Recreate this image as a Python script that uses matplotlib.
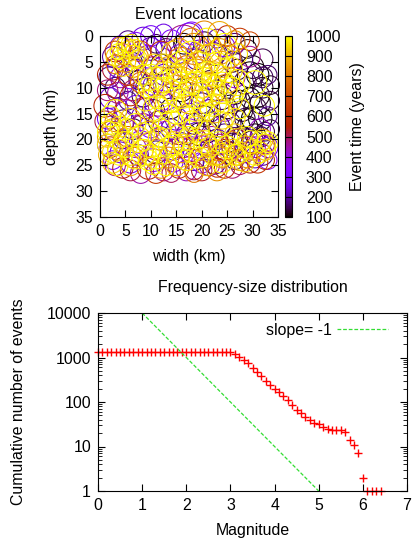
import matplotlib
matplotlib.use('Agg')

import matplotlib.pyplot as plt
from matplotlib.patches import Circle
from matplotlib.collections import PatchCollection
from matplotlib.ticker import FixedLocator, NullFormatter, LogLocator

FS = 11.4
plt.rcParams['font.family'] = ['Liberation Sans', 'DejaVu Sans']
plt.rcParams['font.size'] = FS
plt.rcParams['axes.titlesize'] = FS
plt.rcParams['axes.labelsize'] = FS
plt.rcParams['xtick.labelsize'] = FS
plt.rcParams['ytick.labelsize'] = FS
plt.rcParams['legend.fontsize'] = FS

# Event circles: (width km, depth km, radius km, time years)
early_events = [
    (5.5, 1.0, 2.0, 180), (8.5, 0.5, 2.2, 250), (11.0, 1.5, 1.8, 150), (14.0, 0.8, 2.0, 320),
    (17.5, 0.0, 2.5, 280), (20.5, 1.2, 2.0, 130), (23.0, 0.5, 1.8, 210), (26.5, 1.5, 2.0, 170),
    (29.0, 2.5, 1.8, 120), (32.0, 4.5, 2.0, 140),
    (2.5, 4.0, 2.0, 200), (6.5, 5.0, 1.8, 140), (9.5, 4.0, 2.2, 300), (12.0, 5.5, 2.0, 110),
    (15.5, 3.5, 1.8, 240), (19.0, 4.5, 2.0, 190), (22.5, 3.5, 2.2, 160), (26.0, 5.0, 2.0, 130),
    (30.0, 6.0, 2.2, 110), (33.0, 7.5, 1.8, 160),
    (1.8, 8.0, 2.0, 170), (4.5, 9.0, 2.2, 230), (7.5, 8.5, 1.8, 120), (10.5, 9.5, 2.0, 270),
    (14.0, 8.0, 2.0, 150), (18.0, 9.5, 2.2, 200), (21.5, 8.5, 1.8, 130), (25.0, 9.5, 2.0, 110),
    (28.5, 9.0, 2.2, 150), (32.0, 10.0, 2.0, 120), (33.5, 12.5, 1.8, 140),
    (2.0, 12.0, 2.0, 250), (5.5, 12.5, 1.8, 180), (8.5, 11.5, 2.2, 130), (12.0, 12.5, 2.0, 320),
    (16.0, 12.0, 1.8, 200), (20.0, 13.0, 2.0, 160), (24.0, 12.0, 2.2, 140), (27.5, 12.5, 2.0, 110),
    (30.5, 14.0, 2.2, 130), (33.0, 15.5, 1.8, 190),
    (1.5, 16.0, 2.0, 280), (4.5, 16.5, 2.2, 150), (8.0, 15.5, 1.8, 220), (11.5, 16.5, 2.0, 130),
    (15.0, 16.0, 2.2, 260), (18.5, 17.0, 2.0, 170), (22.0, 16.5, 1.8, 120), (25.5, 17.0, 2.2, 150),
    (29.0, 17.5, 2.0, 110), (32.5, 18.5, 1.8, 140),
    (1.5, 21.0, 2.0, 300), (4.5, 20.0, 1.8, 190), (8.0, 20.5, 2.2, 350), (12.0, 19.5, 2.0, 240),
    (16.0, 20.5, 1.8, 180), (19.5, 19.0, 2.2, 130), (23.0, 20.0, 2.0, 210), (26.5, 19.5, 1.8, 160),
    (30.0, 20.5, 2.2, 120), (33.0, 21.5, 2.0, 330),
    (2.5, 24.0, 1.8, 310), (6.0, 24.5, 2.0, 270), (10.5, 24.0, 2.2, 340), (14.5, 24.5, 1.8, 290),
    (18.5, 24.0, 2.0, 200), (22.5, 24.5, 2.2, 180), (26.5, 24.0, 1.8, 150), (30.5, 23.5, 2.0, 230),
    (33.0, 24.0, 1.8, 360),
    (29.5, 7.5, 2.5, 105), (31.0, 11.5, 2.3, 115), (28.0, 14.5, 2.0, 125), (31.5, 16.0, 2.3, 100),
    (27.0, 6.5, 2.0, 135), (30.5, 19.0, 2.0, 110), (26.0, 21.0, 2.2, 145), (23.5, 17.5, 2.0, 125),
    (20.5, 15.5, 2.0, 115),
    (4.0, 2.0, 2.0, 320), (7.0, 1.5, 2.2, 350), (10.0, 0.0, 2.0, 290), (12.5, -0.5, 1.8, 260),
    (18.0, -0.5, 2.2, 340),
    (3.5, 6.0, 2.0, 220), (7.0, 6.5, 2.0, 160), (10.0, 2.5, 2.2, 200), (13.0, 2.5, 2.0, 140),
    (16.5, 1.5, 2.0, 110), (19.5, 3.0, 2.2, 260), (24.5, 2.0, 2.0, 300), (28.0, 4.5, 2.0, 180),
    (31.0, 7.5, 2.2, 100), (33.5, 9.5, 1.8, 120),
    (3.0, 10.0, 2.0, 140), (6.0, 8.0, 2.2, 310), (9.0, 10.0, 2.0, 180), (12.5, 7.5, 2.0, 230),
    (16.0, 10.5, 2.2, 120), (19.5, 11.0, 2.0, 280), (23.0, 10.5, 2.0, 170), (26.5, 11.0, 2.2, 130),
    (29.5, 12.0, 2.0, 100), (32.0, 8.0, 2.0, 150),
    (3.5, 14.0, 2.0, 210), (7.0, 13.5, 2.0, 260), (10.5, 14.5, 2.2, 160), (14.0, 14.0, 2.0, 110),
    (17.5, 15.0, 2.0, 230), (21.5, 14.5, 2.2, 180), (25.0, 14.0, 2.0, 120), (28.5, 16.0, 2.0, 140),
    (31.5, 13.0, 2.0, 110), (33.5, 18.0, 1.8, 130),
    (3.0, 18.5, 2.0, 240), (6.5, 18.0, 2.0, 140), (10.0, 17.5, 2.2, 310), (14.0, 18.0, 2.0, 190),
    (17.0, 19.0, 2.0, 150), (21.0, 18.5, 2.2, 120), (24.5, 19.0, 2.0, 180), (28.0, 19.5, 2.0, 130),
    (31.5, 19.5, 2.0, 160), (30.0, 16.0, 2.2, 100),
    (4.0, 22.5, 2.0, 260), (7.5, 23.0, 2.0, 200), (11.0, 22.5, 2.2, 150), (14.5, 22.0, 2.0, 270),
    (18.0, 21.5, 2.0, 300), (21.5, 22.0, 2.0, 170), (25.0, 22.5, 2.2, 140), (28.5, 22.5, 2.0, 250),
    (32.0, 23.0, 2.0, 190), (20.0, 24.5, 2.0, 340),
]

middle_events = [
    (2.5, 6.5, 2.0, 520), (3.0, 3.0, 2.0, 600), (1.5, 10.5, 2.0, 480), (1.0, 13.5, 2.2, 550),
    (3.5, 11.0, 2.0, 450), (6.5, 10.5, 2.0, 500), (2.0, 18.5, 2.0, 560), (10.5, 6.0, 2.0, 430),
    (16.4, 1.2, 3.3, 470), (27.5, 0.5, 2.0, 640), (29.5, 1.0, 1.8, 690), (25.0, 0.0, 2.0, 620),
    (3.0, 25.0, 2.0, 480), (6.0, 26.0, 2.0, 510), (9.5, 25.5, 2.2, 540), (12.5, 26.0, 2.0, 470),
    (15.5, 25.5, 2.0, 600), (18.5, 26.0, 1.8, 520), (21.5, 25.0, 2.0, 460), (24.5, 25.5, 2.0, 580),
    (27.5, 25.0, 1.8, 500), (31.0, 24.5, 2.0, 620), (11.0, 22.0, 2.0, 450), (16.5, 21.5, 2.0, 490),
    (20.0, 21.5, 2.2, 430), (24.5, 22.0, 2.0, 560), (28.5, 21.5, 2.0, 410), (32.5, 21.0, 1.8, 470),
    (7.0, 21.5, 2.0, 410), (13.0, 18.5, 2.0, 440), (17.5, 18.0, 2.0, 420), (22.0, 19.5, 2.0, 460),
    (9.0, 14.0, 2.0, 530), (5.0, 14.5, 2.2, 470), (12.5, 9.5, 2.0, 420), (26.5, 8.0, 2.0, 430),
    (24.5, 14.5, 2.0, 410),
    (1.5, 7.5, 2.0, 560), (4.0, 8.0, 2.0, 430), (1.0, 16.5, 2.0, 520), (2.0, 21.5, 2.0, 600),
    (4.5, 25.5, 2.0, 560), (8.0, 26.5, 2.0, 450), (11.0, 26.5, 2.0, 620), (14.0, 26.5, 1.8, 500),
    (17.0, 26.0, 2.0, 440), (20.0, 26.0, 2.0, 530), (23.0, 25.5, 1.8, 610), (26.0, 25.5, 2.0, 480),
    (29.5, 24.5, 2.0, 540), (32.5, 24.0, 1.8, 590), (8.5, 17.0, 2.0, 470), (15.5, 19.0, 2.0, 510),
    (19.0, 20.0, 2.0, 580), (23.5, 21.0, 2.0, 500), (27.0, 20.0, 2.0, 530), (30.5, 21.5, 2.0, 450),
    (5.5, 7.5, 2.0, 620), (8.0, 3.0, 2.0, 650), (12.0, 3.0, 2.0, 580), (29.5, 4.0, 2.0, 460),
    (31.5, 18.0, 2.0, 420), (6.0, 11.5, 2.0, 580), (11.5, 13.5, 2.0, 480),
]

late_events = [
    (15.5, 3.0, 2.5, 860), (18.5, 2.5, 3.0, 820), (21.0, 4.5, 2.8, 880), (19.5, 6.5, 2.5, 790),
    (23.5, 3.0, 2.5, 840), (17.0, 6.0, 2.2, 760), (22.5, 7.5, 2.5, 900), (20.5, -0.5, 2.4, 830),
    (23.5, -0.5, 2.3, 890), (26.5, 1.0, 2.0, 870), (25.5, 4.0, 2.2, 800), (16.0, 9.0, 3.0, 850),
    (13.5, 6.5, 2.5, 880), (24.5, 10.0, 2.5, 810), (19.0, 11.0, 3.0, 870),
    (4.5, 3.5, 2.0, 850), (6.0, 2.5, 1.8, 880), (3.0, 5.5, 1.8, 780), (6.5, 6.0, 2.0, 820),
    (3.5, 22.0, 2.0, 850), (6.5, 23.5, 2.0, 800), (10.0, 23.0, 2.0, 880), (13.5, 23.5, 2.0, 820),
    (17.0, 24.0, 2.0, 870), (20.5, 23.5, 2.0, 790), (24.0, 23.5, 2.0, 860), (27.0, 23.0, 2.0, 830),
    (30.0, 22.0, 2.0, 890), (2.5, 18.0, 2.0, 870), (5.5, 19.5, 2.0, 760), (9.5, 18.5, 2.0, 840),
    (14.5, 20.5, 2.0, 890), (21.0, 21.0, 2.0, 860), (26.0, 20.5, 2.0, 820), (32.0, 20.0, 2.0, 880),
    (1.5, 23.0, 1.8, 900), (12.0, 25.5, 2.0, 850), (18.5, 26.5, 1.8, 780), (23.0, 26.0, 2.0, 840),
    (18.0, 1.0, 2.5, 800), (21.5, 2.5, 2.5, 850), (24.0, 5.5, 2.5, 870), (19.0, 7.5, 3.0, 830),
    (16.0, 5.0, 2.8, 810), (21.0, 10.0, 3.0, 880), (17.5, 12.0, 3.0, 840), (22.5, 14.0, 2.8, 900),
    (14.0, 12.0, 2.8, 860), (12.0, 8.5, 2.5, 780), (25.0, 8.5, 2.5, 890), (7.5, 4.0, 2.0, 840),
    (4.0, 2.0, 1.8, 800), (8.0, 9.0, 2.0, 760),
    (4.5, 20.5, 2.0, 880), (8.5, 22.0, 2.0, 830), (11.5, 20.0, 2.0, 900), (16.0, 22.5, 2.0, 850),
    (19.5, 22.0, 2.0, 880), (23.0, 23.0, 2.0, 810), (26.0, 22.0, 2.0, 870), (29.0, 23.5, 2.0, 840),
    (32.5, 22.0, 2.0, 900), (3.0, 16.5, 2.0, 820), (1.5, 19.5, 2.0, 890), (6.0, 25.0, 2.0, 860),
    (15.0, 25.0, 2.0, 880), (21.0, 25.0, 2.0, 900), (27.5, 24.0, 2.0, 850),
]

latest_events = [
    (5.5, 3.0, 2.0, 960), (6.5, 4.0, 2.2, 990), (5.0, 5.0, 2.0, 940), (4.0, 4.5, 1.8, 1000),
    (7.0, 2.5, 1.8, 970), (3.0, 4.0, 1.8, 930), (6.0, 1.5, 1.8, 980),
    (5.0, 2.0, 1.8, 990), (7.5, 4.5, 1.8, 950), (4.5, 6.0, 1.8, 970), (3.5, 3.0, 1.5, 1000),
    (10.0, 8.0, 2.5, 990), (12.5, 6.0, 2.5, 960), (14.0, 9.5, 3.0, 1000), (17.0, 8.0, 3.5, 980),
    (20.0, 9.0, 3.0, 950), (23.0, 8.5, 3.0, 1000), (25.5, 6.5, 2.5, 970), (22.0, 4.5, 3.0, 940),
    (18.0, 4.0, 3.0, 990), (14.5, 3.5, 2.5, 950), (11.5, 11.0, 3.0, 980), (15.0, 13.5, 3.5, 1000),
    (18.5, 13.0, 3.5, 970), (22.0, 12.5, 3.0, 990), (25.0, 12.0, 3.0, 950), (27.0, 9.0, 2.5, 980),
    (20.5, 16.0, 3.0, 1000), (16.5, 16.5, 3.0, 960), (13.0, 15.5, 2.5, 990), (24.0, 15.5, 2.5, 940),
    (9.0, 12.5, 2.0, 970), (27.5, 14.0, 2.0, 1000), (10.5, 5.5, 2.0, 950), (24.5, 2.0, 2.5, 1000),
    (27.0, 3.5, 2.0, 960), (21.0, 1.0, 2.5, 980), (30.5, 9.0, 2.3, 990), (32.3, 13.5, 2.0, 1000),
    (8.5, 7.5, 2.0, 980), (19.0, 18.0, 2.5, 950), (12.0, 18.0, 2.0, 970),
    (11.0, 9.0, 3.0, 990), (13.0, 11.5, 3.5, 1000), (16.0, 10.5, 3.5, 980), (19.0, 10.5, 3.5, 1000),
    (21.5, 10.5, 3.0, 970), (24.0, 10.0, 3.0, 990), (13.0, 8.0, 3.0, 960), (16.0, 6.0, 3.0, 1000),
    (19.5, 6.0, 3.0, 970), (23.0, 6.0, 2.8, 990), (17.5, 14.5, 3.5, 990), (20.5, 13.5, 3.0, 950),
    (14.0, 17.0, 2.5, 1000), (11.0, 14.0, 2.5, 960), (23.5, 17.0, 2.5, 980), (26.0, 10.5, 2.5, 1000),
    (9.5, 10.0, 2.0, 1000), (15.0, 7.5, 2.0, 940), (21.0, 7.0, 2.0, 1000), (18.0, 16.5, 2.0, 980),
    (26.5, 16.0, 2.0, 960),
    (2.0, 17.0, 2.0, 1000), (3.5, 19.5, 2.2, 970), (5.5, 18.0, 2.0, 990), (7.5, 20.0, 2.5, 960),
    (4.0, 22.5, 2.5, 1000), (7.0, 23.5, 2.2, 980), (10.0, 21.0, 2.5, 950), (9.5, 24.0, 2.0, 1000),
    (12.5, 22.5, 2.2, 970), (14.5, 21.0, 2.0, 990), (15.5, 23.5, 2.0, 940), (18.0, 22.5, 2.0, 1000),
    (20.5, 20.5, 2.2, 980), (22.5, 22.5, 2.5, 960), (25.0, 21.5, 2.2, 1000), (27.5, 22.5, 2.0, 970),
    (29.5, 20.5, 2.2, 990), (31.5, 22.5, 2.0, 950), (33.0, 20.5, 2.0, 1000), (1.5, 21.0, 2.0, 960),
    (6.0, 16.0, 2.0, 930), (3.0, 14.5, 2.2, 980), (2.5, 24.5, 2.0, 940), (13.0, 25.0, 2.0, 1000),
    (24.0, 24.5, 2.0, 980), (28.5, 24.5, 1.8, 950), (17.5, 19.5, 2.0, 990), (26.5, 19.0, 2.0, 920),
    (1.5, 18.5, 2.0, 990), (2.5, 22.5, 2.0, 970), (5.0, 21.0, 2.5, 1000), (6.0, 23.0, 2.0, 950),
    (8.5, 19.0, 2.2, 990), (8.5, 22.5, 2.5, 1000), (11.0, 23.5, 2.2, 960), (11.5, 19.5, 2.0, 990),
    (13.5, 21.5, 2.0, 1000), (16.5, 21.0, 2.0, 970), (17.0, 24.0, 2.0, 990), (19.5, 23.5, 2.0, 1000),
    (21.5, 21.5, 2.0, 960), (23.5, 20.5, 2.0, 990), (24.0, 23.0, 2.2, 970), (26.5, 23.0, 2.0, 1000),
    (28.5, 21.5, 2.2, 960), (30.5, 23.0, 2.0, 1000), (32.5, 21.0, 2.0, 970), (4.0, 17.5, 2.0, 960),
    (2.0, 15.5, 2.0, 1000), (7.0, 17.0, 2.0, 990), (10.5, 25.0, 1.8, 980), (3.5, 25.0, 2.0, 990),
    (31.5, 20.5, 2.0, 980), (29.0, 19.5, 2.0, 1000),
]

# Frequency-size distribution
magnitudes = [round(0.1 * i, 1) for i in range(65)]
cumulative_counts = [1300] * 31 + [
    1200, 1050, 900, 740, 590, 470, 385, 290, 235, 200,
    165, 135, 111, 85, 66, 56, 47, 40, 33, 32,
    28, 25, 24, 24, 24, 21, 14, 11, 7, 2,
    1, 1, 1, 1,
]
slope_mag = [1.0, 5.0]
slope_count = [10000, 1]

W, H = 412, 544
fig = plt.figure(figsize=(W / 100, H / 100), dpi=100)

# Top panel: event locations
ax1 = fig.add_axes([100 / W, 1 - 217 / H, 178 / W, 181 / H])
events = sorted(early_events + middle_events + late_events + latest_events, key=lambda e: e[3])
circles = [Circle((e[0], e[1]), e[2]) for e in events]
coll = PatchCollection(circles, cmap='gnuplot', facecolors='none', linewidths=0.75)
coll.set_array([e[3] for e in events])
coll.set_clim(100, 1000)
coll.set_clip_on(False)
ax1.add_collection(coll)
ax1.set_xlim(0, 35)
ax1.set_ylim(35, 0)
ax1.set_xticks(range(0, 36, 5))
ax1.set_yticks(range(0, 36, 5))
ax1.tick_params(direction='in', top=True, right=True, length=5, width=0.8, pad=5)
ax1.set_xlabel('width (km)', labelpad=7)
ax1.set_ylabel('depth (km)', labelpad=12)
ax1.set_title('Event locations', pad=12)

cax = fig.add_axes([285 / W, 1 - 217 / H, 7 / W, 181 / H])
cb = fig.colorbar(coll, cax=cax)
cb.set_ticks(range(100, 1001, 100))
cb.outline.set_linewidth(0.8)
cax.tick_params(direction='in', left=True, right=True, length=3, width=0.8, pad=10)
cb.set_label('Event time (years)', labelpad=6)

# Bottom panel: frequency-size distribution
ax2 = fig.add_axes([98 / W, 1 - 491 / H, 309 / W, 178 / H])
ax2.plot(magnitudes, cumulative_counts, linestyle='none', marker='+', color='red',
         markersize=6, markeredgewidth=1.0, clip_on=False)
ax2.plot(slope_mag, slope_count, linestyle=(0, (3, 1.5)), color='#33dd33', linewidth=0.9,
         label='slope= -1')
ax2.set_yscale('log')
ax2.set_xlim(0, 7)
ax2.set_ylim(1, 10000)
ax2.set_xticks(range(0, 8))
ax2.yaxis.set_major_locator(FixedLocator([1, 10, 100, 1000, 10000]))
ax2.set_yticklabels(['1', '10', '100', '1000', '10000'])
ax2.yaxis.set_minor_locator(LogLocator(base=10, subs=(2, 3, 4, 5, 6, 7, 8, 9)))
ax2.yaxis.set_minor_formatter(NullFormatter())
ax2.tick_params(which='major', direction='in', top=True, right=True, length=5, width=0.8, pad=5)
ax2.tick_params(which='minor', direction='in', top=True, right=True, length=3, width=0.6)
ax2.set_xlabel('Magnitude', labelpad=7)
ax2.set_ylabel('Cumulative number of events', labelpad=15)
ax2.set_title('Frequency-size distribution', pad=15)
ax2.legend(loc='upper right', bbox_to_anchor=(0.968, 1.0), markerfirst=False, frameon=False,
           handlelength=3.2, borderaxespad=0.2, handletextpad=0.3)

fig.savefig('out.png', dpi=100)
